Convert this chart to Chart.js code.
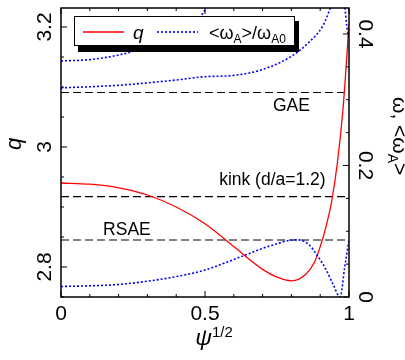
<!DOCTYPE html>
<html>
<head>
<meta charset="utf-8">
<script src="https://cdn.jsdelivr.net/npm/chart.js@4.4.1/dist/chart.umd.min.js"></script>
<style>
  body { margin: 0; background: #fff; }
  #wrap { width: 405px; height: 360px; }
</style>
</head>
<body>
<div id="wrap"><canvas id="qChart" width="405" height="360"></canvas></div>
<script>
// q プロファイル (左軸)
const psiQ = [0, 0.1, 0.2, 0.3, 0.4, 0.5, 0.6, 0.7, 0.75, 0.8, 0.85, 0.88, 0.9, 0.92, 0.94, 0.96, 0.98, 1.0];
const qVals = [2.940, 2.938, 2.932, 2.920, 2.900, 2.872, 2.834, 2.796, 2.783, 2.777, 2.788, 2.808, 2.834, 2.867, 2.910, 2.975, 3.068, 3.205];

// 連続スペクトル (右軸)
const psiLow = [0, 0.1, 0.2, 0.3, 0.4, 0.5, 0.6, 0.7, 0.75, 0.78, 0.82, 0.86, 0.89, 0.92, 0.945, 0.969, 0.985, 1.0];
const omegaLow = [0.016, 0.017, 0.019, 0.024, 0.031, 0.041, 0.057, 0.074, 0.081, 0.085, 0.087, 0.080, 0.063, 0.042, 0.019, 0, 0.045, 0.087];

const psiUp1 = [0, 0.1, 0.2, 0.3, 0.35, 0.43, 0.49, 0.505];
const omegaUp1 = [0.359, 0.361, 0.368, 0.380, 0.387, 0.407, 0.430, 0.440];

const psiUp2 = [0, 0.2, 0.4, 0.5, 0.6, 0.7, 0.8, 0.86, 0.91, 0.936];
const omegaUp2 = [0.318, 0.322, 0.330, 0.335, 0.337, 0.346, 0.366, 0.387, 0.413, 0.440];

const psiUp3 = [0.986, 0.992, 1.0];
const omegaUp3 = [0.440, 0.413, 0.393];

// モード周波数
const modeNames = ['GAE', 'kink (d/a=1.2)', 'RSAE'];
const modeFreqs = [0.311, 0.1526, 0.0867];

// 目盛ラベル
const xTickVals = [0, 0.5, 1];
const xTickLabels = ['0', '0.5', '1'];
const qTickVals = [2.8, 3, 3.2];
const qTickLabels = ['2.8', '3', '3.2'];
const wTickVals = [0, 0.2, 0.4];
const wTickLabels = ['0', '0.2', '0.4'];

const FONT = '"Liberation Sans", Arial, sans-serif';

function toXY(xs, ys) {
    return xs.map((x, i) => ({ x: x, y: ys[i] }));
}

// 上付き・下付き付きテキスト描画
function drawRich(ctx, parts, x, y, rot, align) {
    ctx.save();
    ctx.translate(x, y);
    ctx.rotate(rot);
    let total = 0;
    parts.forEach(p => {
        ctx.font = (p.italic ? 'italic ' : '') + p.size + 'px ' + FONT;
        p.w = ctx.measureText(p.t).width;
        total += p.w;
    });
    let cx = align === 'center' ? -total / 2 : 0;
    ctx.textAlign = 'left';
    ctx.textBaseline = 'alphabetic';
    parts.forEach(p => {
        ctx.font = (p.italic ? 'italic ' : '') + p.size + 'px ' + FONT;
        ctx.fillText(p.t, cx, p.dy || 0);
        cx += p.w;
    });
    ctx.restore();
}

function seg(ctx, x1, y1, x2, y2) {
    ctx.beginPath();
    ctx.moveTo(x1, y1);
    ctx.lineTo(x2, y2);
    ctx.stroke();
}

// 軸・目盛・ラベル・凡例
const axesPlugin = {
    id: 'axesPlugin',
    afterDatasetsDraw(chart) {
        const { ctx, chartArea: a, scales } = chart;
        const sx = scales.x, sq = scales.y, sw = scales.y1;
        ctx.save();
        ctx.fillStyle = '#000';
        ctx.strokeStyle = '#000';

        // モードラベル
        const labelPos = [[0.80, 14], [0.734, -16], [0.229, -10]];
        ctx.font = '17.5px ' + FONT;
        ctx.textAlign = 'center';
        ctx.textBaseline = 'middle';
        modeNames.forEach((name, i) => {
            ctx.fillText(name, sx.getPixelForValue(labelPos[i][0]), sw.getPixelForValue(modeFreqs[i]) + labelPos[i][1]);
        });

        // 枠
        ctx.lineWidth = 1.5;
        ctx.strokeRect(a.left, a.top, a.right - a.left, a.bottom - a.top);

        // x 目盛 (上下、内向き)
        ctx.lineWidth = 1;
        for (let i = 0; i <= 10; i++) {
            const px = sx.getPixelForValue(i / 10);
            const len = i % 5 === 0 ? 6 : 3;
            seg(ctx, px, a.bottom, px, a.bottom - len);
            seg(ctx, px, a.top, px, a.top + len);
        }
        // 左目盛
        for (let i = 0; i <= 9; i++) {
            const v = 2.75 + 0.05 * i;
            const py = sq.getPixelForValue(v);
            const len = i % 4 === 1 ? 6 : 3;
            seg(ctx, a.left, py, a.left + len, py);
        }
        // 右目盛
        for (let i = 0; i <= 8; i++) {
            const py = sw.getPixelForValue(0.05 * i);
            const len = i % 4 === 0 ? 6 : 3;
            seg(ctx, a.right, py, a.right - len, py);
        }

        // 目盛ラベル
        ctx.font = '21px ' + FONT;
        ctx.textAlign = 'center';
        ctx.textBaseline = 'middle';
        xTickVals.forEach((v, i) => {
            ctx.fillText(xTickLabels[i], sx.getPixelForValue(v), a.bottom + 17);
        });
        qTickVals.forEach((v, i) => {
            ctx.save();
            ctx.translate(a.left - 16, sq.getPixelForValue(v));
            ctx.rotate(-Math.PI / 2);
            ctx.fillText(qTickLabels[i], 0, 0);
            ctx.restore();
        });
        wTickVals.forEach((v, i) => {
            ctx.save();
            ctx.translate(a.right + 16, sw.getPixelForValue(v));
            ctx.rotate(Math.PI / 2);
            ctx.fillText(wTickLabels[i], 0, 0);
            ctx.restore();
        });

        // 軸タイトル
        drawRich(ctx, [
            { t: 'ψ', size: 23, italic: true },
            { t: '1/2', size: 15, dy: -8 }
        ], 214, 345, 0, 'center');
        drawRich(ctx, [{ t: 'q', size: 22, italic: true }], 20.5, 144, -Math.PI / 2, 'center');
        drawRich(ctx, [
            { t: 'ω, <ω', size: 21 },
            { t: 'A', size: 14, dy: 5 },
            { t: '>', size: 21 }
        ], 392.5, 97, Math.PI / 2, 'left');

        // 凡例
        ctx.fillStyle = '#000';
        ctx.fillRect(78, 21, 221, 31);
        ctx.fillStyle = '#fff';
        ctx.fillRect(74, 16, 221, 30);
        ctx.lineWidth = 1;
        ctx.strokeRect(74.5, 16.5, 220, 29);
        ctx.strokeStyle = '#ff0000';
        ctx.lineWidth = 1.3;
        seg(ctx, 83, 32, 124, 32);
        ctx.strokeStyle = '#0000ff';
        ctx.lineWidth = 1.6;
        ctx.setLineDash([2, 2]);
        seg(ctx, 157, 32, 198, 32);
        ctx.setLineDash([]);
        ctx.fillStyle = '#000';
        drawRich(ctx, [{ t: 'q', size: 19, italic: true }], 133, 38.5, 0, 'left');
        drawRich(ctx, [
            { t: '<ω', size: 18 },
            { t: 'A', size: 12, dy: 4 },
            { t: '>/ω', size: 18 },
            { t: 'A0', size: 12, dy: 4 }
        ], 209, 38.5, 0, 'left');

        ctx.restore();
    }
};

const blueDotted = {
    borderColor: '#0000ff',
    borderWidth: 1.6,
    borderDash: [2, 2],
    yAxisID: 'y1'
};

const datasets = [
    Object.assign({ label: 'low', data: toXY(psiLow, omegaLow) }, blueDotted),
    Object.assign({ label: 'up1', data: toXY(psiUp1, omegaUp1) }, blueDotted),
    Object.assign({ label: 'up2', data: toXY(psiUp2, omegaUp2) }, blueDotted),
    Object.assign({ label: 'up3', data: toXY(psiUp3, omegaUp3) }, blueDotted),
    {
        label: 'q',
        data: toXY(psiQ, qVals),
        borderColor: '#ff0000',
        borderWidth: 1.3,
        yAxisID: 'y'
    }
];

modeFreqs.forEach((f, i) => {
    datasets.push({
        label: modeNames[i],
        data: [{ x: 0, y: f }, { x: 1, y: f }],
        borderColor: '#000',
        borderWidth: 1.2,
        borderDash: [8, 4],
        yAxisID: 'y1'
    });
});

new Chart(document.getElementById('qChart'), {
    type: 'scatter',
    data: { datasets: datasets },
    options: {
        responsive: false,
        animation: false,
        showLine: true,
        layout: { padding: { left: 61, right: 56, top: 8, bottom: 63 } },
        elements: {
            point: { radius: 0, hoverRadius: 0 },
            line: { cubicInterpolationMode: 'monotone', fill: false }
        },
        scales: {
            x: { type: 'linear', min: 0, max: 1, display: false },
            y: { type: 'linear', position: 'left', min: 2.75, max: 3.2317, display: false },
            y1: { type: 'linear', position: 'right', min: 0, max: 0.4395, display: false }
        },
        plugins: {
            legend: { display: false },
            tooltip: { enabled: false }
        }
    },
    plugins: [axesPlugin]
});
</script>
</body>
</html>
